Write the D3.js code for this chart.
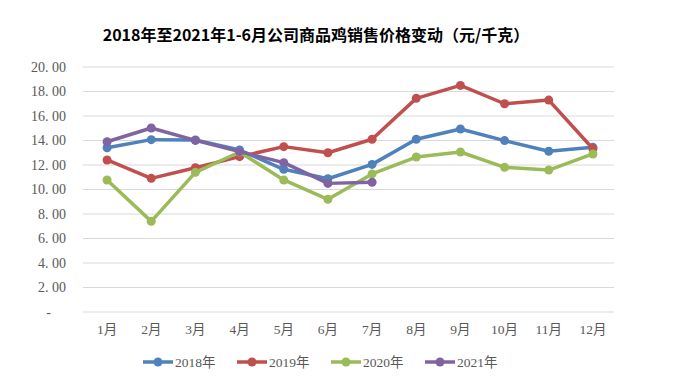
<!DOCTYPE html>
<html><head><meta charset="utf-8">
<script src="https://cdn.jsdelivr.net/npm/d3@7"></script>
<style>
html,body{margin:0;padding:0;background:#fff;}
</style></head>
<body>
<svg id="chart" width="673" height="390"></svg>
<script>
const categories = ["1月","2月","3月","4月","5月","6月","7月","8月","9月","10月","11月","12月"];
const seriesNames = ["2018年","2019年","2020年","2021年"];
const s2018 = [13.41,14.07,14.04,13.22,11.65,10.88,12.05,14.10,14.94,13.99,13.12,13.44];
const s2019 = [12.41,10.91,11.78,12.68,13.50,13.00,14.10,17.44,18.50,17.00,17.30,13.33];
const s2020 = [10.78,7.40,11.40,13.06,10.78,9.20,11.27,12.65,13.06,11.81,11.59,12.90];
const s2021 = [13.90,15.02,14.01,13.09,12.19,10.50,10.59];
const yTicks = [0,2,4,6,8,10,12,14,16,18,20];
const colors = ["#4F81BD","#C0504D","#9BBB59","#8064A2"];
const title = "2018年至2021年1-6月公司商品鸡销售价格变动（元/千克）";

const allSeries = [s2018,s2019,s2020,s2021];
const svg = d3.select("#chart");
const plotL = 83, plotR = 614, plotT = 67, plotB = 312;

const x = d3.scaleBand().domain(categories).range([plotL+2, plotR+1]);
const y = d3.scaleLinear().domain([0,20]).range([plotB, plotT]);

svg.append("text").attr("x", 316).attr("y", 41).attr("text-anchor","middle")
  .attr("font-family","'Noto Sans CJK SC', sans-serif").attr("font-weight","bold")
  .attr("font-size",16).attr("fill","#000").text(title);

// gridlines
svg.append("g").selectAll("line").data(yTicks).join("line")
  .attr("x1", plotL).attr("x2", plotR)
  .attr("y1", d=>y(d)).attr("y2", d=>y(d))
  .attr("stroke","#d9d9d9").attr("stroke-width",1);

// y axis
const yAxis = d3.axisLeft(y).tickValues(yTicks).tickSize(0).tickPadding(0)
  .tickFormat(d => d===0 ? "-" : d3.format(".2f")(d).replace(".", ". "));
const gy = svg.append("g").attr("transform", `translate(${plotL-17},0)`).call(yAxis);
gy.select(".domain").remove();
gy.selectAll("text").attr("font-family","'Liberation Serif', serif").attr("font-size",14).attr("fill","#595959").style("white-space","pre");
gy.selectAll(".tick").filter(d=>d===0).select("text").attr("dx", -15);

// x axis
const xAxis = d3.axisBottom(x).tickSize(0).tickPadding(0);
const gx = svg.append("g").attr("transform", `translate(0,${plotB+12})`).call(xAxis);
gx.select(".domain").remove();
gx.selectAll("text").attr("font-family","'Liberation Serif', 'Noto Sans CJK SC', serif").attr("font-size",13.5).attr("fill","#595959");

const line = d3.line().x((d,i)=>x(categories[i])+x.bandwidth()/2).y(d=>y(d));

allSeries.forEach((s,k)=>{
  const g = svg.append("g");
  g.append("path").datum(s).attr("d", line).attr("fill","none")
    .attr("stroke", colors[k]).attr("stroke-width",3.5).attr("stroke-linejoin","round");
  g.selectAll("circle").data(s).join("circle")
    .attr("cx",(d,i)=>x(categories[i])+x.bandwidth()/2).attr("cy",d=>y(d))
    .attr("r",4.5).attr("fill",colors[k]);
});

// legend
const leg = svg.append("g").selectAll("g").data(seriesNames).join("g")
  .attr("transform",(d,i)=>`translate(${143+i*94},362)`);
leg.append("line").attr("x1",0).attr("x2",30).attr("y1",0).attr("y2",0)
  .attr("stroke",(d,i)=>colors[i]).attr("stroke-width",3.5);
leg.append("circle").attr("cx",15).attr("cy",0).attr("r",4.5).attr("fill",(d,i)=>colors[i]);
leg.append("text").attr("x",32).attr("y",0).attr("dy","0.35em")
  .attr("font-family","'Liberation Serif', 'Noto Sans CJK SC', serif").attr("font-size",13.5)
  .attr("fill","#595959").text(d=>d);
</script>
</body></html>
